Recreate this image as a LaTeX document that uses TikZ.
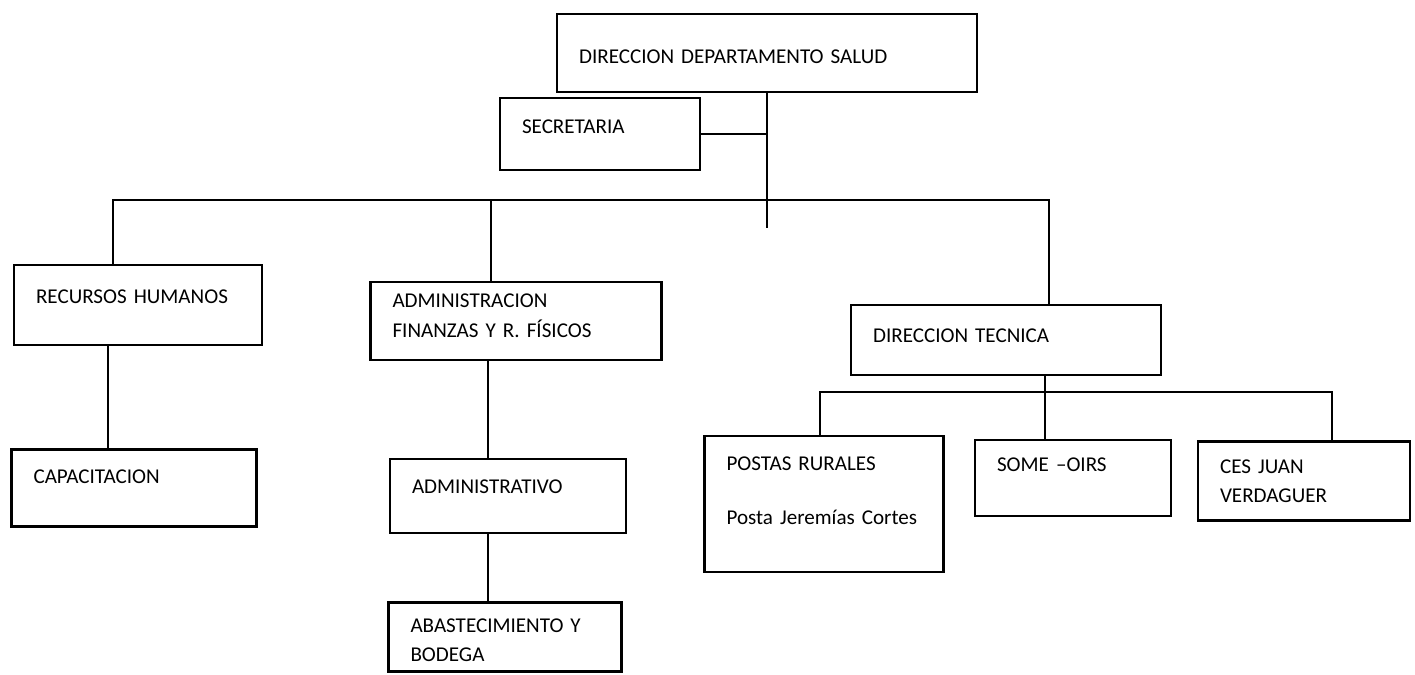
\documentclass[tikz,border=0pt]{standalone}
\usepackage{fontspec}
\setmainfont{Carlito}
\begin{document}
\begin{tikzpicture}[x=0.02cm, y=-0.02cm,
    font=\fontsize{12}{17}\selectfont,
    box/.style={draw, line width=1.2pt, inner xsep=0.44cm, inner ysep=0pt, align=left},
    link/.style={line width=1pt}]
  \useasboundingbox (0,0) rectangle (1415,675);
  % boxes
  \node[box, text width=7.52cm, text height=0.99cm, text depth=0.57cm] (dir) at (767,53) {DIRECCION DEPARTAMENTO SALUD};
  \node[box, text width=3.12cm, text height=0.71cm, text depth=0.73cm] (sec) at (600,134) {SECRETARIA};
  \node[box, text width=4.08cm, text height=0.77cm, text depth=0.83cm] (rh) at (138,305) {RECURSOS HUMANOS};
  \node[box, text width=4.94cm, text height=0.51cm, text depth=1.05cm] (adm) at (516,321) {ADMINISTRACION\\FINANZAS Y R. FÍSICOS};
  \node[box, text width=5.32cm, text height=0.75cm, text depth=0.65cm] (dt) at (1006,340) {DIRECCION TECNICA};
  \node[box, text width=4.02cm, text height=0.67cm, text depth=0.87cm] (cap) at (134,488) {CAPACITACION};
  \node[box, text width=3.84cm, text height=0.69cm, text depth=0.79cm] (admv) at (508,496) {ADMINISTRATIVO};
  \node[box, text width=3.78cm, text height=0.59cm, text depth=0.79cm] (abs) at (505,637) {ABASTECIMIENTO Y\\BODEGA};
  \node[box, text width=3.9cm, text height=0.69cm, text depth=2.03cm] (pos) at (824,504) {POSTAS RURALES\\[0.48cm]Posta Jeremías Cortes};
  \node[box, text width=3.04cm, text height=0.63cm, text depth=0.89cm] (some) at (1073,478) {SOME –OIRS};
  \node[box, text width=3.36cm, text height=0.63cm, text depth=0.95cm] (ces) at (1304,481) {CES JUAN\\VERDAGUER};
  % connectors
  \coordinate (bus) at (767,228);
  \coordinate (bl) at (113,200);
  \coordinate (bm) at (491,200);
  \coordinate (br) at (1049,200);
  \coordinate (k1) at (108,400);
  \coordinate (k2) at (488,400);
  \coordinate (p1) at (820,392);
  \coordinate (pm) at (1045,392);
  \coordinate (p2) at (1332,392);
  \draw[link] (dir.south) -- (bus);
  \draw[link] (sec.east) -- (sec.east -| dir.south);
  \draw[link] (bl |- rh.north) -- (bl) -- (br) -- (br |- dt.north);
  \draw[link] (bm) -- (bm |- adm.north);
  \draw[link] (k1 |- rh.south) -- (k1 |- cap.north);
  \draw[link] (k2 |- adm.south) -- (k2 |- admv.north);
  \draw[link] (k2 |- admv.south) -- (k2 |- abs.north);
  \draw[link] (p1 |- pos.north) -- (p1) -- (p2) -- (p2 |- ces.north);
  \draw[link] (pm |- dt.south) -- (pm |- some.north);
\end{tikzpicture}
\end{document}
